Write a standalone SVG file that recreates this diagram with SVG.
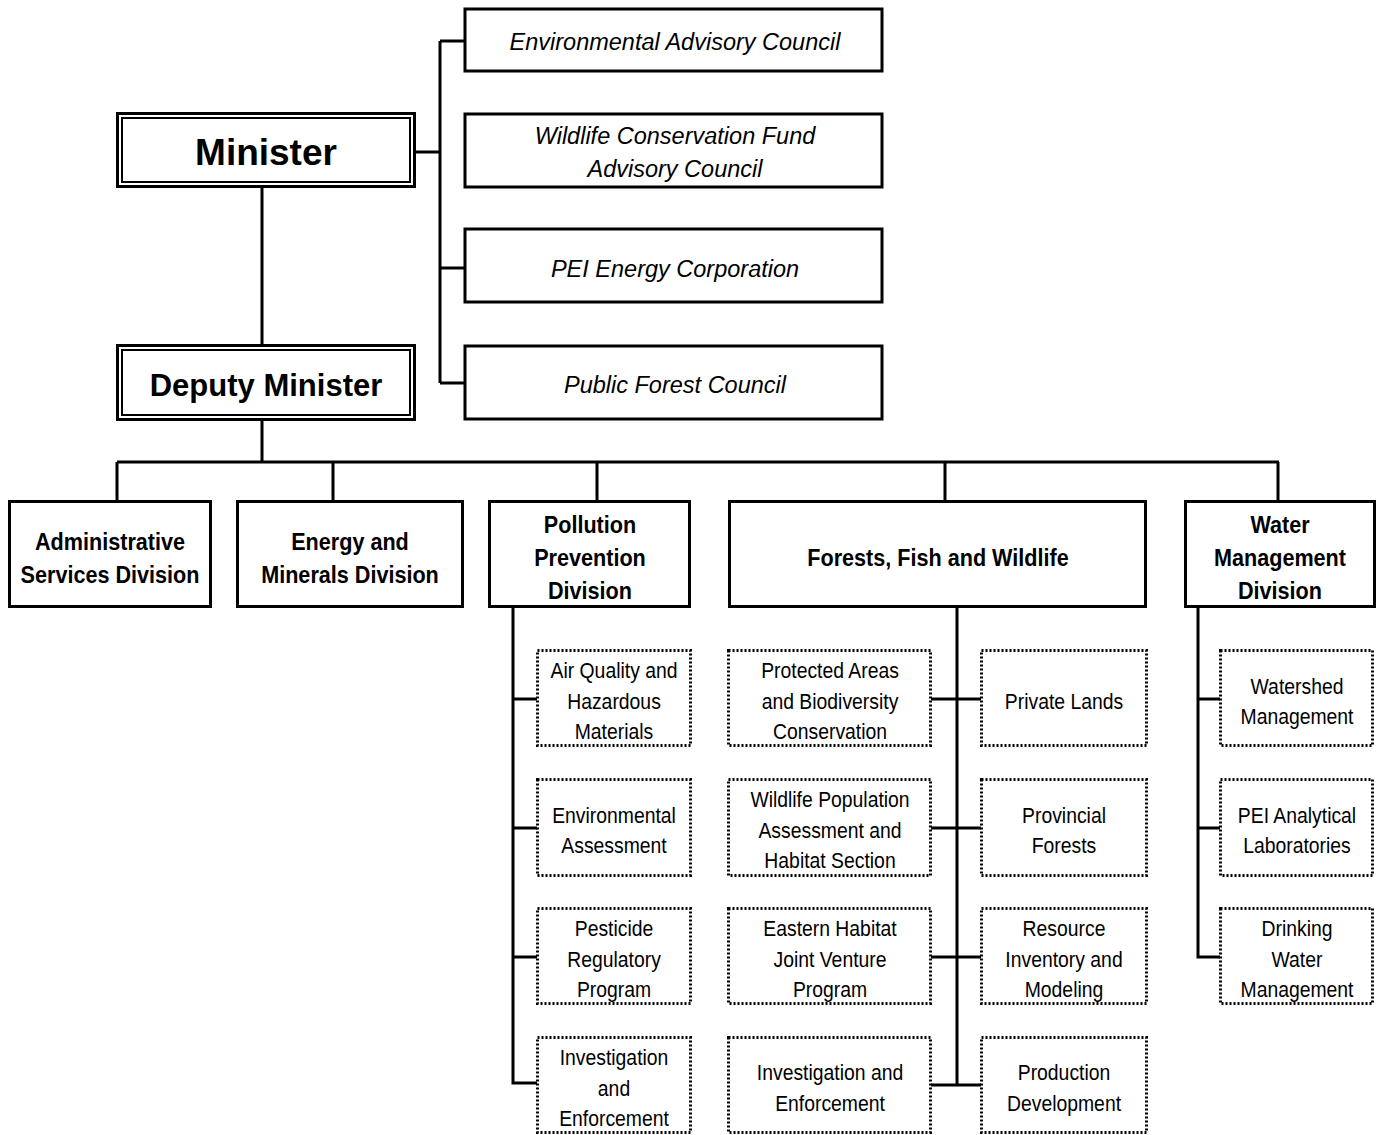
<svg xmlns="http://www.w3.org/2000/svg" width="1378" height="1135" viewBox="0 0 1378 1135">
<style>
.bg{fill:#fff}
.box{fill:#fff;stroke:#000;stroke-width:3}
.inner{fill:none;stroke:#000;stroke-width:2}
.dot{fill:#fff;stroke:#000;stroke-width:3;stroke-dasharray:2 2}
.ln{fill:none;stroke:#000;stroke-width:3}
text{font-family:"Liberation Sans",Arial,sans-serif;fill:#000;text-anchor:middle}
.top{font-weight:bold}
.adv{font-style:italic;font-size:23.5px}
.div{font-weight:bold;font-size:24px}
.sub{font-size:22px}
</style>
<rect class="bg" x="0" y="0" width="1378" height="1135"/>
<g id="connectors">
<path class="ln" d="M262 188V344M262 421V462M117 462H1279M117 462V500M333 462V500M597 462V500M945 462V500M1278 462V500"/>
<path class="ln" d="M416 152H440M440 41V383M440 41H465M440 268H465M440 383H465"/>
<path class="ln" d="M513 607V1083H537M513 699H537M513 828H537M513 957H537"/>
<path class="ln" d="M957 607V1085M931 699H981M931 828H981M931 957H981M931 1085H981"/>
<path class="ln" d="M1198 607V957H1220M1198 699H1220M1198 828H1220"/>
</g>
<g id="minister">
<rect class="box" x="117.5" y="113.5" width="297" height="73"/>
<rect class="inner" x="122" y="118" width="288" height="64"/>
<text class="top" x="266" y="165" font-size="37">Minister</text>
</g>
<g id="deputy">
<rect class="box" x="117.5" y="345.5" width="297" height="74"/>
<rect class="inner" x="122" y="350" width="288" height="65"/>
<text class="top" x="266" y="396" font-size="31">Deputy Minister</text>
</g>
<g id="env-council">
<rect class="box" x="465" y="9" width="417" height="62"/>
<text class="adv" x="675" y="50">Environmental Advisory Council</text>
</g>
<g id="wildlife-fund">
<rect class="box" x="465" y="114" width="417" height="73"/>
<text class="adv" x="675" y="144">Wildlife Conservation Fund</text>
<text class="adv" x="675" y="177">Advisory Council</text>
</g>
<g id="pei-energy">
<rect class="box" x="465" y="229" width="417" height="73"/>
<text class="adv" x="675" y="277">PEI Energy Corporation</text>
</g>
<g id="public-forest">
<rect class="box" x="465" y="346" width="417" height="73"/>
<text class="adv" x="675" y="393">Public Forest Council</text>
</g>
<g id="admin">
<rect class="box" x="9.5" y="501.5" width="201" height="105"/>
<g transform="translate(110 0) scale(0.9 1)"><text class="div" x="0" y="550">Administrative</text><text class="div" x="0" y="583">Services Division</text></g>
</g>
<g id="energy">
<rect class="box" x="237.5" y="501.5" width="225" height="105"/>
<g transform="translate(350 0) scale(0.9 1)"><text class="div" x="0" y="550">Energy and</text><text class="div" x="0" y="583">Minerals Division</text></g>
</g>
<g id="pollution">
<rect class="box" x="489.5" y="501.5" width="200" height="105"/>
<g transform="translate(590 0) scale(0.9 1)"><text class="div" x="0" y="533">Pollution</text><text class="div" x="0" y="566">Prevention</text><text class="div" x="0" y="599">Division</text></g>
</g>
<g id="forests">
<rect class="box" x="729.5" y="501.5" width="416" height="105"/>
<g transform="translate(938 0) scale(0.9 1)"><text class="div" x="0" y="566">Forests, Fish and Wildlife</text></g>
</g>
<g id="water">
<rect class="box" x="1185.5" y="501.5" width="189" height="105"/>
<g transform="translate(1280 0) scale(0.9 1)"><text class="div" x="0" y="533">Water</text><text class="div" x="0" y="566">Management</text><text class="div" x="0" y="599">Division</text></g>
</g>
<g id="air-quality">
<rect class="dot" x="537.5" y="650.5" width="153" height="95"/>
<g transform="translate(614 0) scale(0.88 1)"><text class="sub" x="0" y="678">Air Quality and</text><text class="sub" x="0" y="709">Hazardous</text><text class="sub" x="0" y="739">Materials</text></g>
</g>
<g id="env-assessment">
<rect class="dot" x="537.5" y="779.5" width="153" height="96"/>
<g transform="translate(614 0) scale(0.88 1)"><text class="sub" x="0" y="823">Environmental</text><text class="sub" x="0" y="853">Assessment</text></g>
</g>
<g id="pesticide">
<rect class="dot" x="537.5" y="908.5" width="153" height="95"/>
<g transform="translate(614 0) scale(0.88 1)"><text class="sub" x="0" y="936">Pesticide</text><text class="sub" x="0" y="967">Regulatory</text><text class="sub" x="0" y="997">Program</text></g>
</g>
<g id="pp-investigation">
<rect class="dot" x="537.5" y="1037.5" width="153" height="95"/>
<g transform="translate(614 0) scale(0.88 1)"><text class="sub" x="0" y="1065">Investigation</text><text class="sub" x="0" y="1096">and</text><text class="sub" x="0" y="1126">Enforcement</text></g>
</g>
<g id="protected-areas">
<rect class="dot" x="728.5" y="650.5" width="202" height="95"/>
<g transform="translate(830 0) scale(0.88 1)"><text class="sub" x="0" y="678">Protected Areas</text><text class="sub" x="0" y="709">and Biodiversity</text><text class="sub" x="0" y="739">Conservation</text></g>
</g>
<g id="wildlife-population">
<rect class="dot" x="728.5" y="779.5" width="202" height="96"/>
<g transform="translate(830 0) scale(0.88 1)"><text class="sub" x="0" y="807">Wildlife Population</text><text class="sub" x="0" y="838">Assessment and</text><text class="sub" x="0" y="868">Habitat Section</text></g>
</g>
<g id="eastern-habitat">
<rect class="dot" x="728.5" y="908.5" width="202" height="95"/>
<g transform="translate(830 0) scale(0.88 1)"><text class="sub" x="0" y="936">Eastern Habitat</text><text class="sub" x="0" y="967">Joint Venture</text><text class="sub" x="0" y="997">Program</text></g>
</g>
<g id="ffw-investigation">
<rect class="dot" x="728.5" y="1037.5" width="202" height="95"/>
<g transform="translate(830 0) scale(0.88 1)"><text class="sub" x="0" y="1080">Investigation and</text><text class="sub" x="0" y="1111">Enforcement</text></g>
</g>
<g id="private-lands">
<rect class="dot" x="981.5" y="650.5" width="165" height="95"/>
<g transform="translate(1064 0) scale(0.88 1)"><text class="sub" x="0" y="709">Private Lands</text></g>
</g>
<g id="provincial-forests">
<rect class="dot" x="981.5" y="779.5" width="165" height="96"/>
<g transform="translate(1064 0) scale(0.88 1)"><text class="sub" x="0" y="823">Provincial</text><text class="sub" x="0" y="853">Forests</text></g>
</g>
<g id="resource-inventory">
<rect class="dot" x="981.5" y="908.5" width="165" height="95"/>
<g transform="translate(1064 0) scale(0.88 1)"><text class="sub" x="0" y="936">Resource</text><text class="sub" x="0" y="967">Inventory and</text><text class="sub" x="0" y="997">Modeling</text></g>
</g>
<g id="production">
<rect class="dot" x="981.5" y="1037.5" width="165" height="95"/>
<g transform="translate(1064 0) scale(0.88 1)"><text class="sub" x="0" y="1080">Production</text><text class="sub" x="0" y="1111">Development</text></g>
</g>
<g id="watershed">
<rect class="dot" x="1220.5" y="650.5" width="152" height="95"/>
<g transform="translate(1297 0) scale(0.88 1)"><text class="sub" x="0" y="694">Watershed</text><text class="sub" x="0" y="724">Management</text></g>
</g>
<g id="pei-labs">
<rect class="dot" x="1220.5" y="779.5" width="152" height="96"/>
<g transform="translate(1297 0) scale(0.88 1)"><text class="sub" x="0" y="823">PEI Analytical</text><text class="sub" x="0" y="853">Laboratories</text></g>
</g>
<g id="drinking-water">
<rect class="dot" x="1220.5" y="908.5" width="152" height="95"/>
<g transform="translate(1297 0) scale(0.88 1)"><text class="sub" x="0" y="936">Drinking</text><text class="sub" x="0" y="967">Water</text><text class="sub" x="0" y="997">Management</text></g>
</g>
</svg>
